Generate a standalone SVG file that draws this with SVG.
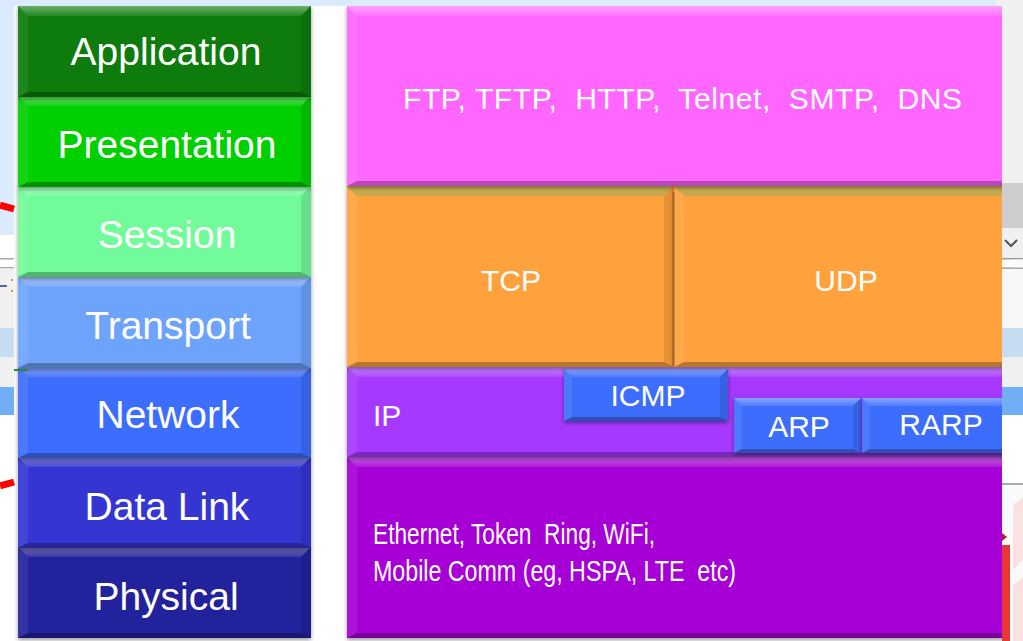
<svg xmlns="http://www.w3.org/2000/svg" xmlns:xlink="http://www.w3.org/1999/xlink" width="1023" height="641" viewBox="0 0 1023 641">
  <style>
    .lbl { font-family: "Liberation Sans", Arial, sans-serif; fill: #fff; }
    .osi { font-size: 39px; text-anchor: middle; }
    .tcp { font-size: 30px; }
    .mid { text-anchor: middle; }
    .pre { white-space: pre; }
    .hi  { fill: url(#bevelTop); }
    .lt  { fill: #fff; fill-opacity: 0.08; }
    .dk  { fill: #000; fill-opacity: 0.1; }
    .bt  { fill: #000; fill-opacity: 0.28; }
    .olive { fill: #8fb060; fill-opacity: 0.5; }
  </style>
  <defs>
    <linearGradient id="bevelTop" x1="0" y1="0" x2="0" y2="1">
      <stop offset="0" stop-color="#fff" stop-opacity="0.38"/>
      <stop offset="1" stop-color="#fff" stop-opacity="0.1"/>
    </linearGradient>
    <filter id="shadow" x="-5%" y="-5%" width="110%" height="115%">
      <feDropShadow dx="0" dy="2" stdDeviation="2" flood-color="#000" flood-opacity="0.4"/>
    </filter>
    <!-- slope bevel for the 293x91 OSI layer tiles -->
    <g id="osiBevel">
      <path class="hi" d="M0,0 H293 L283,10 H10 Z"/>
      <path class="lt" d="M0,0 L10,10 V86 L0,91 Z"/>
      <path class="dk" d="M293,0 L283,10 V86 L293,91 Z"/>
      <path class="bt" d="M0,91 L10,86 H283 L293,91 Z"/>
    </g>
  </defs>

  <rect width="1023" height="641" fill="#fff"/>

  <!-- OSI model column (drawn bottom-up so each tile shades the one below) -->
  <g id="osi-physical">
    <rect x="18" y="547" width="293" height="91" fill="#21219c" filter="url(#shadow)"/>
    <use xlink:href="#osiBevel" x="18" y="547"/>
    <text class="lbl osi" x="166" y="610">Physical</text>
  </g>
  <g id="osi-datalink">
    <rect x="18" y="457" width="293" height="91" fill="#3636d2" filter="url(#shadow)"/>
    <use xlink:href="#osiBevel" x="18" y="457"/>
    <text class="lbl osi" x="167" y="520">Data Link</text>
  </g>
  <g id="osi-network">
    <rect x="18" y="367" width="293" height="91" fill="#3c6dfc" filter="url(#shadow)"/>
    <use xlink:href="#osiBevel" x="18" y="367"/>
    <text class="lbl osi" x="168" y="428">Network</text>
  </g>
  <g id="osi-transport">
    <rect x="18" y="277" width="293" height="91" fill="#6ea3fb" filter="url(#shadow)"/>
    <use xlink:href="#osiBevel" x="18" y="277"/>
    <text class="lbl osi" x="168" y="339">Transport</text>
  </g>
  <g id="osi-session">
    <rect x="18" y="186" width="293" height="91" fill="#72fb9a" filter="url(#shadow)"/>
    <use xlink:href="#osiBevel" x="18" y="186"/>
    <text class="lbl osi" x="167" y="248">Session</text>
  </g>
  <g id="osi-presentation">
    <rect x="18" y="96" width="293" height="91" fill="#05cf05" filter="url(#shadow)"/>
    <use xlink:href="#osiBevel" x="18" y="96"/>
    <text class="lbl osi" x="167" y="158">Presentation</text>
  </g>
  <g id="osi-application">
    <rect x="18" y="6" width="293" height="91" fill="#097c09" filter="url(#shadow)"/>
    <use xlink:href="#osiBevel" x="18" y="6"/>
    <text class="lbl osi" x="166" y="65">Application</text>
  </g>

  <!-- TCP/IP stack column -->
  <g id="link-layer">
    <rect x="347" y="457" width="665" height="181" fill="#a600d6" filter="url(#shadow)"/>
    <path class="hi" d="M347,457 H1002 V467 H357 Z"/>
    <path class="lt" d="M347,457 L357,467 V633 L347,638 Z"/>
    <path class="bt" d="M347,638 L357,633 H1002 V638 Z"/>
    <text class="lbl pre" x="373" y="544" font-size="30" textLength="282" lengthAdjust="spacingAndGlyphs" xml:space="preserve">Ethernet, Token  Ring, WiFi,</text>
    <text class="lbl pre" x="373" y="581" font-size="30" textLength="363" lengthAdjust="spacingAndGlyphs" xml:space="preserve">Mobile Comm (eg, HSPA, LTE  etc)</text>
  </g>
  <g id="ip">
    <rect x="347" y="367" width="665" height="90" fill="#a637ff" filter="url(#shadow)"/>
    <path class="hi" d="M347,367 H1002 V377 H357 Z"/>
    <path class="lt" d="M347,367 L357,377 V452 L347,457 Z"/>
    <path class="bt" d="M347,457 L357,452 H1002 V457 Z"/>
    <text class="lbl tcp" x="373" y="426">IP</text>
  </g>
  <g id="icmp">
    <rect x="564" y="369" width="164" height="52" fill="#3c6dfc" filter="url(#shadow)"/>
    <path class="hi" d="M564,369 H728 L720,377 H572 Z"/>
    <path class="lt" d="M564,369 L572,377 V417 L564,421 Z"/>
    <path class="dk" d="M728,369 L720,377 V417 L728,421 Z"/>
    <path class="bt" d="M564,421 L572,417 H720 L728,421 Z"/>
    <text class="lbl tcp mid" x="648" y="406">ICMP</text>
  </g>
  <g id="arp">
    <rect x="734" y="398" width="127" height="55" fill="#3c6dfc" filter="url(#shadow)"/>
    <path class="hi" d="M734,398 H861 L853,406 H742 Z"/>
    <path class="lt" d="M734,398 L742,406 V449 L734,453 Z"/>
    <path class="dk" d="M861,398 L853,406 V449 L861,453 Z"/>
    <path class="bt" d="M734,453 L742,449 H853 L861,453 Z"/>
    <text class="lbl tcp mid" x="799" y="437">ARP</text>
  </g>
  <g id="rarp">
    <rect x="862" y="398" width="150" height="55" fill="#3c6dfc" filter="url(#shadow)"/>
    <path class="hi" d="M862,398 H1002 V406 H870 Z"/>
    <path class="lt" d="M862,398 L870,406 V449 L862,453 Z"/>
    <path class="bt" d="M862,453 L870,449 H1002 V453 Z"/>
    <text class="lbl tcp mid" x="941" y="435">RARP</text>
  </g>
  <g id="tcp">
    <rect x="347" y="186" width="327" height="181" fill="#ffa23d" filter="url(#shadow)"/>
    <path class="olive" d="M347,186 H674 L664,196 H357 Z"/>
    <path class="lt" d="M347,186 L357,196 V362 L347,367 Z"/>
    <path class="dk" d="M674,186 L664,196 V362 L674,367 Z"/>
    <path class="bt" d="M347,367 L357,362 H664 L674,367 Z"/>
    <text class="lbl tcp mid" x="511" y="291">TCP</text>
  </g>
  <g id="udp">
    <rect x="674" y="186" width="338" height="181" fill="#ffa23d" filter="url(#shadow)"/>
    <path class="olive" d="M674,186 H1002 V196 H684 Z"/>
    <path class="lt" d="M674,186 L684,196 V362 L674,367 Z"/>
    <path class="bt" d="M674,367 L684,362 H1002 V367 Z"/>
    <path d="M673.5,192 V366" stroke="#9c6428" stroke-width="2"/>
    <text class="lbl tcp mid" x="846" y="291">UDP</text>
  </g>
  <g id="application-protocols">
    <rect x="347" y="6" width="665" height="180" fill="#ff66ff" filter="url(#shadow)"/>
    <path class="hi" d="M347,6 H1002 V16 H357 Z"/>
    <path class="lt" d="M347,6 L357,16 V181 L347,186 Z"/>
    <path class="bt" d="M347,186 L357,181 H1002 V186 Z"/>
    <text class="lbl pre" x="403" y="109" font-size="30" textLength="559" lengthAdjust="spacing" xml:space="preserve">FTP, TFTP,  HTTP,  Telnet,  SMTP,  DNS</text>
  </g>

  <!-- surrounding window chrome: top band -->
  <rect x="0" y="0" width="996" height="6" fill="#dbeafc"/>
  <rect x="996" y="0" width="27" height="6" fill="#f0f0f0"/>

  <!-- left margin strip -->
  <g id="left-strip">
    <rect x="0" y="0" width="14" height="235" fill="#dbeafc"/>
    <rect x="0" y="235" width="14" height="406" fill="#fff"/>
    <rect x="0" y="258" width="14" height="1.5" fill="#a8a8a8"/>
    <rect x="0" y="267" width="14" height="1.5" fill="#a8a8a8"/>
    <rect x="0" y="268.5" width="14" height="59.5" fill="#f0f0f0"/>
    <rect x="0" y="328" width="14" height="29" fill="#c6ddf1"/>
    <rect x="0" y="357" width="14" height="30" fill="#f0f0f0"/>
    <rect x="0" y="387" width="14" height="28" fill="#70aef5"/>
    <path d="M0,286 H7" stroke="#1a3a8a" stroke-width="1.5"/>
    <circle cx="12" cy="280" r="1" fill="#c07030"/>
    <circle cx="12" cy="291" r="1" fill="#c07030"/>
    <path d="M0,205 L14,209" stroke="#f00" stroke-width="7"/>
    <path d="M0,486 L14,482" stroke="#f00" stroke-width="7"/>
    <path d="M14,370 H28" stroke="#2a8a3a" stroke-width="2"/>
  </g>

  <!-- right margin strip -->
  <g id="right-strip">
    <rect x="1002" y="6" width="21" height="177" fill="#f0f0f0"/>
    <rect x="1002" y="183" width="21" height="45" fill="#cdcdcd"/>
    <rect x="1002" y="228" width="21" height="30" fill="#f0f0f0"/>
    <path d="M1005,240 L1011,246 L1017,240" fill="none" stroke="#555" stroke-width="2"/>
    <rect x="1002" y="258" width="21" height="1.5" fill="#999"/>
    <rect x="1002" y="259.5" width="21" height="8" fill="#fafafa"/>
    <rect x="1002" y="267.5" width="21" height="1.5" fill="#aaa"/>
    <rect x="1002" y="269" width="21" height="59" fill="#f8f8f8"/>
    <rect x="1002" y="328" width="21" height="29" fill="#c6ddf1"/>
    <rect x="1002" y="357" width="21" height="30" fill="#f0f0f0"/>
    <rect x="1002" y="387" width="21" height="28" fill="#70aef5"/>
    <rect x="1002" y="415" width="21" height="68" fill="#fff"/>
    <rect x="1002" y="483" width="21" height="2" fill="#aaa"/>
    <rect x="1002" y="485" width="21" height="156" fill="#fafafa"/>
    <polygon points="1013,505 1023,497 1023,560 1013,570" fill="#fbe2e2"/>
    <polygon points="1013,585 1023,577 1023,641 1013,641" fill="#fbe2e2"/>
    <path d="M1002,533 L1007,537 L1002,541 Z" fill="#b02020"/>
    <rect x="1002" y="545" width="8" height="96" fill="#e83535"/>
  </g>
</svg>
